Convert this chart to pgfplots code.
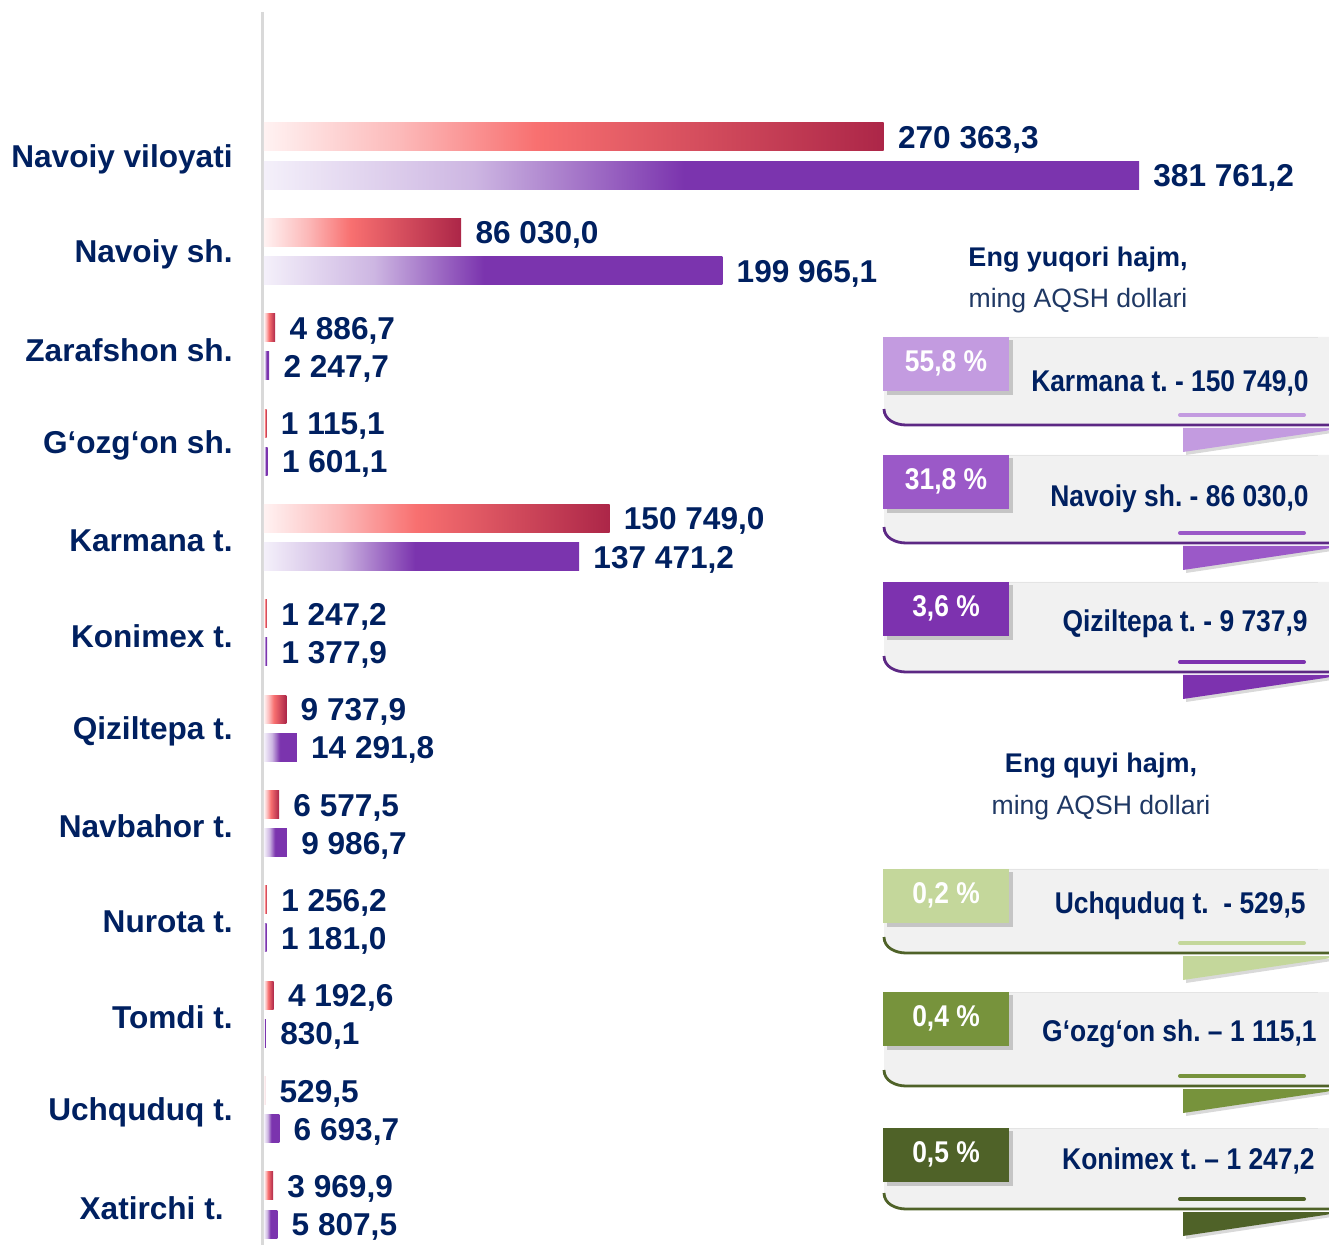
\documentclass[border=0pt]{standalone}
\usepackage{pgfplots}
\pgfplotsset{compat=1.18}
\usepackage{fontspec}
\setmainfont{Liberation Sans}
\newfontfamily\narrowfont[FakeStretch=0.88]{Liberation Sans}

\definecolor{navy}{RGB}{0,32,96}
\definecolor{navytxt}{RGB}{31,56,100}
\definecolor{axisgray}{RGB}{217,217,217}
\definecolor{panelgray}{RGB}{241,241,241}
% bar gradients
\definecolor{rL}{RGB}{255,242,242}
\definecolor{rA}{RGB}{252,185,185}
\definecolor{rM}{RGB}{248,112,112}
\definecolor{rR}{RGB}{172,38,72}
\definecolor{pL}{RGB}{244,240,250}
\definecolor{pA}{RGB}{205,182,226}
\definecolor{pM}{RGB}{123,52,174}
% panel colours
\definecolor{tabA}{RGB}{195,155,224}
\definecolor{tabB}{RGB}{155,89,200}
\definecolor{tabC}{RGB}{125,50,175}
\definecolor{lineP}{RGB}{92,40,132}
\definecolor{tabD}{RGB}{196,215,155}
\definecolor{tabE}{RGB}{119,147,60}
\definecolor{tabF}{RGB}{79,98,40}
\definecolor{lineG}{RGB}{79,98,40}

\pgfdeclarehorizontalshading{redbar}{100bp}{color(0bp)=(rL); color(25bp)=(rL); color(36bp)=(rA); color(47bp)=(rM); color(75bp)=(rR); color(100bp)=(rR)}
\pgfdeclarehorizontalshading{purplebar}{100bp}{color(0bp)=(pL); color(25bp)=(pL); color(37bp)=(pA); color(49bp)=(pM); color(100bp)=(pM)}

\newcommand{\catfont}{\bfseries\fontsize{15.8}{19}\selectfont}
\newcommand{\tabfont}{\narrowfont\bfseries\fontsize{15}{18}\selectfont}

% #1 top, #2 bottom line, #3 text y, #4 tab colour, #5 line colour, #6 percent, #7 text, #8 text right x
\newcommand{\panel}[8]{%
  \fill[panelgray, rounded corners=9pt] (884,#1) rectangle (1360,#2);
  \draw[axisgray!70, line width=0.4pt] (900,#1) -- (1318,#1);
  \draw[#5, line width=1.4pt] (884,#2-16) to[out=-90,in=180] (906,#2) -- (1360,#2);
  \fill[black, opacity=0.18] (887,#1+3) rectangle (1013,#1+58);
  \fill[#4] (883,#1) rectangle (1009,#1+54);
  \node[text=white, font=\tabfont] at (946,#1+26) {#6};
  \node[anchor=east, inner sep=0pt, text=navy, font=\tabfont] at (#8,#3) {#7};
  \draw[#4, line width=2pt, line cap=round] (1180,#2-10) -- (1304,#2-10);
  \fill[black, opacity=0.15] (1186,#2+6) -- (1345,#2+6) -- (1186,#2+30) -- cycle;
  \fill[#4] (1183,#2+3) -- (1345,#2+3) -- (1183,#2+27) -- cycle;
}

\pgfplotsset{
  redb/.style={draw=none, shading=redbar},
  purb/.style={draw=none, shading=purplebar},
}

\begin{document}
\frenchspacing
\begin{tikzpicture}[x=0.5pt,y=-0.5pt]
\useasboundingbox (0,0) rectangle (1329,1245);
\clip (0,0) rectangle (1329,1245);
\draw[axisgray, line width=1.5pt] (262,12) -- (262,1245);

\begin{axis}[
  at={(132pt,-6pt)}, anchor=north west,
  scale only axis, width=532.5pt, height=616.5pt,
  xmin=0, xmax=464660, ymin=-1.51, ymax=11.42, y dir=reverse,
  axis line style={draw=none}, xtick=\empty,
  ytick={0,1,2,3,4,5,6,7,8,9,10,11}, major tick length=0pt,
  yticklabels={Navoiy viloyati, Navoiy sh., Zarafshon sh., G‘ozg‘on sh., Karmana t., Konimex t., Qiziltepa t., Navbahor t., Nurota t., Tomdi t., Uchquduq t., Xatirchi t.\rule{4.5pt}{0pt}},
  yticklabel style={font=\catfont, text=navy, anchor=east, inner sep=0pt, xshift=-15.5pt, yshift=-1.5pt},
  xbar, bar width=14pt, bar shift=0pt,
  clip=false,
  nodes near coords, point meta=explicit symbolic,
  every node near coord/.append style={font=\catfont, text=navy, anchor=west, inner sep=0pt, xshift=7pt, yshift=-1.5pt},
]
% first series (red), one plot per bar so that each bar gets its own gradient
\addplot[redb] coordinates {(270363.3,-0.2) [{270 363,3}]};
\addplot[redb] coordinates {(86030.0,0.8) [{86 030,0}]};
\addplot[redb] coordinates {(4886.7,1.8) [{4 886,7}]};
\addplot[redb] coordinates {(1115.1,2.8) [{1 115,1}]};
\addplot[redb] coordinates {(150749.0,3.8) [{150 749,0}]};
\addplot[redb] coordinates {(1247.2,4.8) [{1 247,2}]};
\addplot[redb] coordinates {(9737.9,5.8) [{9 737,9}]};
\addplot[redb] coordinates {(6577.5,6.8) [{6 577,5}]};
\addplot[redb] coordinates {(1256.2,7.8) [{1 256,2}]};
\addplot[redb] coordinates {(4192.6,8.8) [{4 192,6}]};
\addplot[redb] coordinates {(529.5,9.8) [{529,5}]};
\addplot[redb] coordinates {(3969.9,10.8) [{3 969,9}]};
% second series (purple)
\addplot[purb] coordinates {(381761.2,0.2) [{381 761,2}]};
\addplot[purb] coordinates {(199965.1,1.2) [{199 965,1}]};
\addplot[purb] coordinates {(2247.7,2.2) [{2 247,7}]};
\addplot[purb] coordinates {(1601.1,3.2) [{1 601,1}]};
\addplot[purb] coordinates {(137471.2,4.2) [{137 471,2}]};
\addplot[purb] coordinates {(1377.9,5.2) [{1 377,9}]};
\addplot[purb] coordinates {(14291.8,6.2) [{14 291,8}]};
\addplot[purb] coordinates {(9986.7,7.2) [{9 986,7}]};
\addplot[purb] coordinates {(1181.0,8.2) [{1 181,0}]};
\addplot[purb] coordinates {(830.1,9.2) [{830,1}]};
\addplot[purb] coordinates {(6693.7,10.2) [{6 693,7}]};
\addplot[purb] coordinates {(5807.5,11.2) [{5 807,5}]};
\end{axis}

% highest values
\node[text=navy, font=\bfseries\fontsize{13.5}{16}\selectfont] at (1078,260) {Eng yuqori hajm,};
\node[text=navytxt, font=\fontsize{13.3}{16}\selectfont] at (1078,301) {ming AQSH dollari};
\panel{337}{425}{383}{tabA}{lineP}{55,8 \%}{Karmana t. - 150 749,0}{1309}
\panel{455}{543}{499}{tabB}{lineP}{31,8 \%}{Navoiy sh. - 86 030,0}{1309}
\panel{582}{672}{624}{tabC}{lineP}{3,6 \%}{Qiziltepa t. - 9 737,9}{1308}

% lowest values
\node[text=navy, font=\bfseries\fontsize{13.5}{16}\selectfont] at (1101,766) {Eng quyi hajm,};
\node[text=navytxt, font=\fontsize{13.3}{16}\selectfont] at (1101,808) {ming AQSH dollari};
\panel{869}{953}{906}{tabD}{lineG}{0,2 \%}{Uchquduq t.\ \ - 529,5}{1306}
\panel{992}{1086}{1034}{tabE}{lineG}{0,4 \%}{G‘ozg‘on sh. – 1 115,1}{1317}
\panel{1128}{1209}{1161}{tabF}{lineG}{0,5 \%}{Konimex t. – 1 247,2}{1315}
\end{tikzpicture}
\end{document}
